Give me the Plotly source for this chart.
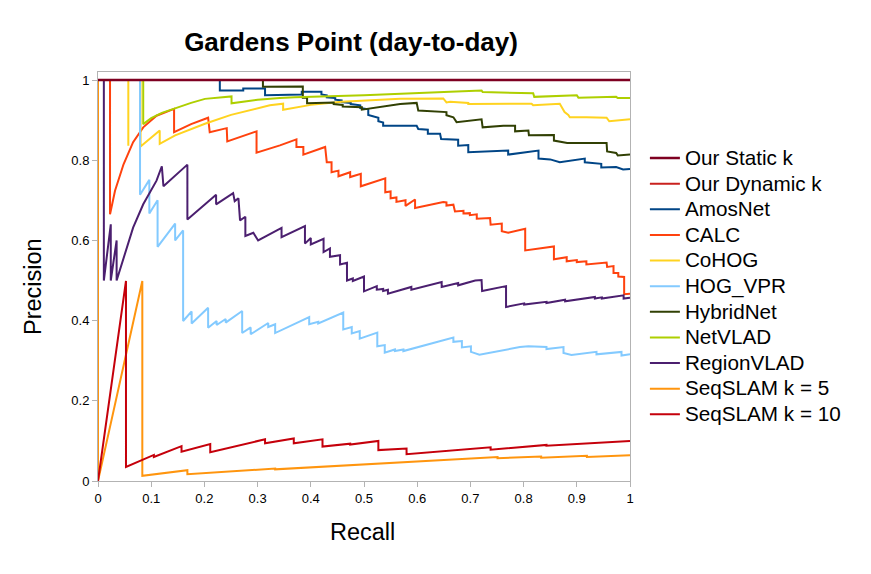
import plotly.graph_objects as go

# ---- data (recall, precision) ----
static_pts = [(0, 1), (1, 1)]
dynamic_pts = [(0, 1), (1, 1)]

amos_pts = [(0, 1), (0.229, 1), (0.229, 0.974), (0.273, 0.974), (0.273, 0.979), (0.314, 0.979),
            (0.314, 0.962), (0.383, 0.964), (0.383, 0.971), (0.42, 0.971), (0.42, 0.964), (0.43, 0.962),
            (0.43, 0.957), (0.446, 0.955), (0.446, 0.951), (0.458, 0.949), (0.458, 0.945), (0.475, 0.943),
            (0.475, 0.940), (0.493, 0.937), (0.493, 0.930), (0.508, 0.927), (0.508, 0.913), (0.527, 0.906),
            (0.527, 0.897), (0.536, 0.894), (0.536, 0.886),
            (0.599, 0.886), (0.602, 0.878), (0.62, 0.876), (0.62, 0.866), (0.643, 0.866), (0.645, 0.853),
            (0.662, 0.851), (0.677, 0.851), (0.677, 0.836), (0.696, 0.838), (0.696, 0.820), (0.771, 0.824),
            (0.771, 0.814), (0.828, 0.824), (0.828, 0.804), (0.85, 0.802), (0.868, 0.795), (0.915, 0.804),
            (0.915, 0.795), (0.946, 0.791), (0.946, 0.782), (0.974, 0.783), (0.987, 0.777), (1.0, 0.778)]

calc_pts = [(0, 1), (0.0226, 1), (0.0226, 0.665), (0.032, 0.724), (0.048, 0.790), (0.066, 0.845),
            (0.085, 0.882), (0.11, 0.911), (0.143, 0.928), (0.143, 0.870), (0.175, 0.890), (0.207, 0.906),
            (0.21, 0.870), (0.242, 0.880), (0.243, 0.847), (0.298, 0.872), (0.298, 0.819), (0.342, 0.837),
            (0.373, 0.852), (0.373, 0.833), (0.386, 0.833), (0.386, 0.814), (0.427, 0.833), (0.43, 0.795),
            (0.439, 0.795), (0.439, 0.770), (0.452, 0.774), (0.452, 0.760), (0.474, 0.770), (0.474, 0.758),
            (0.494, 0.766), (0.494, 0.735), (0.54, 0.755), (0.54, 0.720), (0.55, 0.722), (0.55, 0.705),
            (0.561, 0.707), (0.561, 0.696), (0.578, 0.700), (0.578, 0.686), (0.596, 0.702), (0.596, 0.681),
            (0.649, 0.696), (0.655, 0.695), (0.655, 0.687), (0.668, 0.689), (0.671, 0.672), (0.687, 0.674),
            (0.687, 0.667), (0.699, 0.668), (0.699, 0.663), (0.712, 0.665), (0.712, 0.654), (0.737, 0.656),
            (0.738, 0.639), (0.759, 0.642), (0.759, 0.623), (0.771, 0.619), (0.803, 0.629), (0.803, 0.575),
            (0.857, 0.585), (0.857, 0.553), (0.881, 0.558), (0.881, 0.548), (0.9, 0.551), (0.9, 0.546),
            (0.918, 0.548), (0.918, 0.540), (0.956, 0.545), (0.957, 0.534), (0.969, 0.536), (0.969, 0.519),
            (0.978, 0.519), (0.978, 0.510), (0.989, 0.509), (0.989, 0.466), (1.0, 0.467)]

cohog_pts = [(0, 1), (0.057, 1), (0.057, 0.836), (0.057, 1), (0.08, 1), (0.08, 0.834), (0.116, 0.874),
             (0.116, 0.841), (0.145, 0.862), (0.201, 0.891), (0.25, 0.913), (0.3, 0.930), (0.323, 0.937),
             (0.348, 0.941), (0.348, 0.926), (0.4, 0.938), (0.458, 0.946), (0.568, 0.953), (0.649, 0.954),
             (0.655, 0.944), (0.662, 0.946), (0.696, 0.943), (0.696, 0.940), (0.815, 0.941), (0.818, 0.937),
             (0.868, 0.941), (0.877, 0.920), (0.884, 0.913), (0.887, 0.907), (0.918, 0.907), (0.956, 0.906),
             (0.961, 0.897), (1.0, 0.902)]

hog_pts = [(0, 1), (0.079, 1), (0.079, 0.714), (0.0965, 0.751), (0.0965, 0.667), (0.112, 0.700),
           (0.112, 0.584), (0.145, 0.642), (0.145, 0.600), (0.16, 0.625), (0.16, 0.399), (0.176, 0.423),
           (0.176, 0.393), (0.207, 0.432), (0.207, 0.382), (0.223, 0.399), (0.223, 0.389), (0.24, 0.404),
           (0.24, 0.395), (0.271, 0.424), (0.271, 0.369), (0.287, 0.383), (0.287, 0.366), (0.32, 0.394),
           (0.32, 0.384), (0.333, 0.391), (0.333, 0.369), (0.397, 0.409), (0.397, 0.391), (0.414, 0.397),
           (0.414, 0.393), (0.461, 0.420), (0.461, 0.378), (0.477, 0.384), (0.477, 0.368), (0.492, 0.374),
           (0.492, 0.355), (0.525, 0.370), (0.525, 0.336), (0.539, 0.339), (0.539, 0.320), (0.558, 0.328),
           (0.558, 0.324), (0.574, 0.328), (0.574, 0.324), (0.668, 0.358), (0.668, 0.347), (0.684, 0.349),
           (0.684, 0.333), (0.701, 0.336), (0.701, 0.322), (0.717, 0.315), (0.793, 0.334), (0.809, 0.336),
           (0.843, 0.334), (0.843, 0.329), (0.875, 0.334), (0.875, 0.319), (0.89, 0.314), (0.937, 0.322),
           (0.937, 0.316), (0.984, 0.322), (0.984, 0.313), (1.0, 0.316)]

hybrid_pts = [(0, 1), (0.31, 1), (0.31, 0.983), (0.385, 0.984), (0.385, 0.956), (0.393, 0.956),
              (0.393, 0.942), (0.443, 0.944), (0.443, 0.940), (0.46, 0.938), (0.46, 0.934), (0.496, 0.932),
              (0.496, 0.926), (0.568, 0.940), (0.599, 0.943), (0.602, 0.924), (0.655, 0.920), (0.655, 0.912),
              (0.668, 0.907), (0.674, 0.895), (0.721, 0.902), (0.723, 0.882), (0.762, 0.886), (0.784, 0.886),
              (0.784, 0.872), (0.809, 0.874), (0.81, 0.862), (0.857, 0.863), (0.857, 0.849), (0.882, 0.843),
              (0.956, 0.843), (0.957, 0.822), (0.974, 0.818), (0.977, 0.812), (1.0, 0.814)]

netvlad_pts = [(0, 1), (0.085, 1), (0.085, 0.89), (0.1, 0.905), (0.12, 0.918), (0.145, 0.930),
               (0.175, 0.943), (0.201, 0.953), (0.251, 0.959), (0.251, 0.942), (0.3, 0.951), (0.342, 0.955),
               (0.37, 0.957), (0.5, 0.962), (0.568, 0.965), (0.662, 0.971), (0.721, 0.974), (0.723, 0.970),
               (0.818, 0.967), (0.82, 0.958), (0.9, 0.962), (0.903, 0.956), (0.974, 0.958), (0.977, 0.955),
               (1.0, 0.955)]

region_pts = [(0, 1), (0.011, 1), (0.011, 0.5), (0.024, 0.64), (0.024, 0.5), (0.035, 0.6), (0.035, 0.5),
              (0.048, 0.557), (0.066, 0.632), (0.085, 0.69), (0.11, 0.749), (0.12, 0.785), (0.123, 0.735),
              (0.168, 0.789), (0.168, 0.652), (0.222, 0.714), (0.222, 0.690), (0.254, 0.718), (0.257, 0.698),
              (0.264, 0.705), (0.267, 0.650), (0.277, 0.659), (0.277, 0.611), (0.292, 0.619), (0.301, 0.600),
              (0.345, 0.631), (0.345, 0.608), (0.389, 0.636), (0.389, 0.592), (0.4, 0.606), (0.4, 0.59),
              (0.424, 0.604), (0.424, 0.571), (0.436, 0.58), (0.436, 0.559), (0.455, 0.563), (0.455, 0.540),
              (0.468, 0.544), (0.468, 0.5), (0.479, 0.505), (0.479, 0.499), (0.5, 0.51), (0.5, 0.473),
              (0.524, 0.486), (0.524, 0.477), (0.536, 0.479), (0.536, 0.474), (0.545, 0.477), (0.545, 0.467),
              (0.589, 0.484), (0.589, 0.477), (0.646, 0.496), (0.646, 0.484), (0.677, 0.494), (0.677, 0.488),
              (0.709, 0.5), (0.721, 0.501), (0.722, 0.474), (0.767, 0.486), (0.767, 0.434), (0.801, 0.443),
              (0.801, 0.440), (0.843, 0.447), (0.843, 0.444), (0.878, 0.452), (0.878, 0.448), (0.934, 0.459),
              (0.934, 0.455), (0.947, 0.458), (0.947, 0.455), (0.988, 0.463), (0.988, 0.455), (1.0, 0.457)]

seq5_pts = [(0, 1), (0, 0), (0.0833, 0.499), (0.0833, 0.013), (0.168, 0.027), (0.168, 0.017),
            (0.333, 0.031), (0.333, 0.029), (0.751, 0.060), (0.751, 0.057), (0.833, 0.061), (0.833, 0.058),
            (0.919, 0.063), (0.919, 0.060), (1.0, 0.064)]

seq10_pts = [(0, 0), (0.0526, 0.499), (0.0526, 0.035), (0.105, 0.065), (0.105, 0.060), (0.157, 0.087),
             (0.157, 0.073), (0.211, 0.092), (0.211, 0.072), (0.314, 0.104), (0.314, 0.094), (0.368, 0.106),
             (0.368, 0.094), (0.422, 0.104), (0.422, 0.086), (0.474, 0.093), (0.474, 0.091), (0.527, 0.100),
             (0.527, 0.077), (0.58, 0.081), (0.58, 0.067), (0.738, 0.084), (0.738, 0.078), (0.843, 0.090),
             (0.843, 0.088), (1.0, 0.100)]

names = ["Our Static k", "Our Dynamic k", "AmosNet", "CALC", "CoHOG", "HOG_VPR",
         "HybridNet", "NetVLAD", "RegionVLAD", "SeqSLAM k = 5", "SeqSLAM k = 10"]
series = [static_pts, dynamic_pts, amos_pts, calc_pts, cohog_pts, hog_pts,
          hybrid_pts, netvlad_pts, region_pts, seq5_pts, seq10_pts]
colors = ["#7E0021", "#C9211E", "#004586", "#FF420E", "#FFD320", "#83CAFF",
          "#314004", "#AECF00", "#4B1F6F", "#FF950E", "#C5000B"]

FONT = "Liberation Sans, Arial, sans-serif"
PAGE = 8  # default body margin of the html page

fig = go.Figure()
# draw order: all series in legend order, "Our Static k" drawn last (on top)
draw_order = list(range(1, len(names))) + [0]
for i in draw_order:
    pts = series[i]
    fig.add_trace(go.Scatter(
        x=[p[0] for p in pts], y=[p[1] for p in pts], mode="lines",
        name='<span style="font-size:20.7px">' + names[i] + '</span>',
        line=dict(color=colors[i], width=2.5 if i == 0 else 2),
        legendrank=i + 1, hoverinfo="skip"))

axis_common = dict(showline=True, linecolor="#b3b3b3", linewidth=1, mirror=True,
                   ticks="outside", ticklen=5, tickcolor="#b3b3b3", showgrid=False,
                   zeroline=False, tickfont=dict(family=FONT, size=13, color="#000"))

fig.update_layout(
    width=871, height=574,
    margin=dict(l=98 - PAGE, r=241 + PAGE, t=72 - PAGE, b=93 + PAGE),
    paper_bgcolor="white", plot_bgcolor="white",
    font=dict(family=FONT, color="#000"),
    title=dict(text="<b>Gardens Point (day-to-day)</b>", x=(351 - PAGE) / 871, xanchor="center",
               xref="container", y=1 - (42 - PAGE) / 574, yref="container", yanchor="middle",
               font=dict(family=FONT, size=26, color="#000")),
    xaxis=dict(range=[0, 1], dtick=0.1, tick0=0, **axis_common),
    yaxis=dict(range=[0, 1.02], dtick=0.2, tick0=0, **axis_common),
    legend=dict(x=1.028, xanchor="left", y=0.833, yanchor="top",
                font=dict(family=FONT, size=17.4, color="#000"),
                itemwidth=30, tracegroupgap=0, bgcolor="rgba(0,0,0,0)"),
    showlegend=True,
    annotations=[
        dict(text="Recall", xref="paper", yref="paper", x=(362 - 98) / 532, y=(481 - 532) / 409,
             xanchor="center", yanchor="middle", showarrow=False,
             font=dict(family=FONT, size=23.5, color="#000")),
        dict(text="Precision", xref="paper", yref="paper", x=(33 - 98) / 532, y=(481 - 287) / 409,
             xanchor="center", yanchor="middle", showarrow=False, textangle=-90,
             font=dict(family=FONT, size=23.5, color="#000")),
    ],
)

fig.write_html("out.html")
